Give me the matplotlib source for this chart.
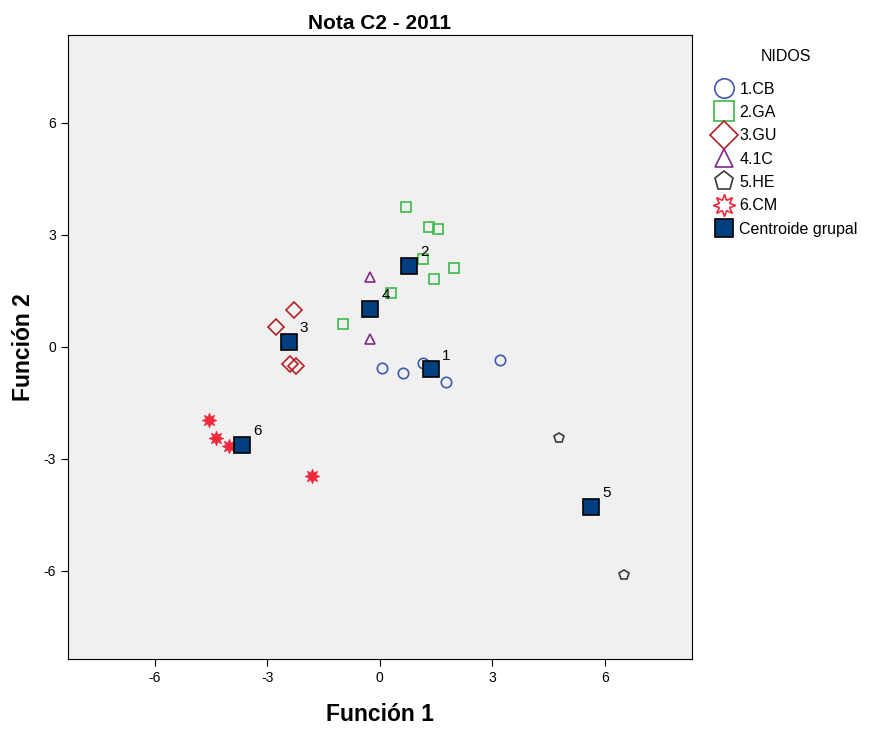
import numpy as np
import matplotlib.pyplot as plt
from matplotlib.lines import Line2D

plt.rcParams['font.family'] = ['Liberation Sans', 'DejaVu Sans']
plt.rcParams['axes.unicode_minus'] = False

groups = ['1.CB', '2.GA', '3.GU', '4.1C', '5.HE', '6.CM']

cb_x = [0.07, 0.61, 1.15, 1.76, 3.21]
cb_y = [-0.57, -0.69, -0.44, -0.93, -0.35]
ga_x = [0.69, 1.32, 1.56, 1.14, 1.98, 1.44, 0.30, -0.99, -0.30]
ga_y = [3.76, 3.22, 3.17, 2.36, 2.12, 1.81, 1.44, 0.62, 1.05]
gu_x = [-2.30, -2.77, -2.40, -2.23]
gu_y = [1.00, 0.52, -0.46, -0.50]
c1_x = [-0.26, -0.26]
c1_y = [1.86, 0.21]
he_x = [4.77, 6.51]
he_y = [-2.43, -6.12]
cm_x = [-4.55, -4.37, -4.02, -1.81]
cm_y = [-1.96, -2.45, -2.65, -3.47]

cent_x = [1.36, 0.79, -2.43, -0.26, 5.64, -3.68]
cent_y = [-0.60, 2.17, 0.13, 1.01, -4.29, -2.63]
cent_lab = ['1', '2', '3', '4', '5', '6']

fig = plt.figure(figsize=(8.89, 7.3), dpi=100)
ax = fig.add_axes([0.0765, 0.0973, 0.7015, 0.855])
ax.set_facecolor('#f0f0f0')

styles = [
    (cb_x, cb_y, 'o', '#3f5bb0', 7.5, 14),
    (ga_x, ga_y, 's', '#3cba48', 7.5, 14),
    (gu_x, gu_y, 'D', '#b02226', 8.0, 14),
    (c1_x, c1_y, '^', '#7f2a86', 6.5, 13),
    (he_x, he_y, 'p', '#3a3a3a', 7.5, 14),
    (cm_x, cm_y, (8, 1, 0), '#f0283c', 10.5, 16),
]

handles = []
for (xs, ys, m, c, ms, lms), g in zip(styles, groups):
    if m == (8, 1, 0):
        ax.plot(xs, ys, ls='none', marker=m, ms=ms, mfc=c, mec=c, mew=0.6)
        handles.append(Line2D([], [], ls='none', marker=m, ms=lms, mfc='white', mec=c, mew=1.2, label=g))
    else:
        ax.plot(xs, ys, ls='none', marker=m, ms=ms, mfc='none', mec=c, mew=1.2)
        handles.append(Line2D([], [], ls='none', marker=m, ms=lms, mfc='none', mec=c, mew=1.2, label=g))

ax.plot(cent_x, cent_y, ls='none', marker='s', ms=12, mfc='#003f7f', mec='black', mew=1.2)
handles.append(Line2D([], [], ls='none', marker='s', ms=13, mfc='#003f7f', mec='black', mew=1.2, label='Centroide grupal'))
for x, y, t in zip(cent_x, cent_y, cent_lab):
    ax.annotate(t, (x, y), xytext=(8, 7), textcoords='offset points', fontsize=11)

ax.set_xlim(-8.32, 8.32)
ax.set_ylim(-8.36, 8.36)
ax.set_xticks([-6, -3, 0, 3, 6])
ax.set_yticks([-6, -3, 0, 3, 6])
ax.tick_params(direction='out', length=5, labelsize=10)
ax.set_xlabel('Función 1', fontsize=16.5, fontweight='bold', labelpad=13)
ax.set_ylabel('Función 2', fontsize=16.5, fontweight='bold', labelpad=6)
ax.set_title('Nota C2 - 2011', fontsize=15, fontweight='bold', pad=4)

leg = fig.legend(handles=handles, title='NIDOS', loc='upper left', bbox_to_anchor=(0.795, 0.942),
                 frameon=False, fontsize=11.5, title_fontsize=11.5, handletextpad=0.25,
                 labelspacing=0.52, borderaxespad=0, handlelength=1.4)
leg._legend_box.sep = 13

fig.savefig('out.png', dpi=100)
